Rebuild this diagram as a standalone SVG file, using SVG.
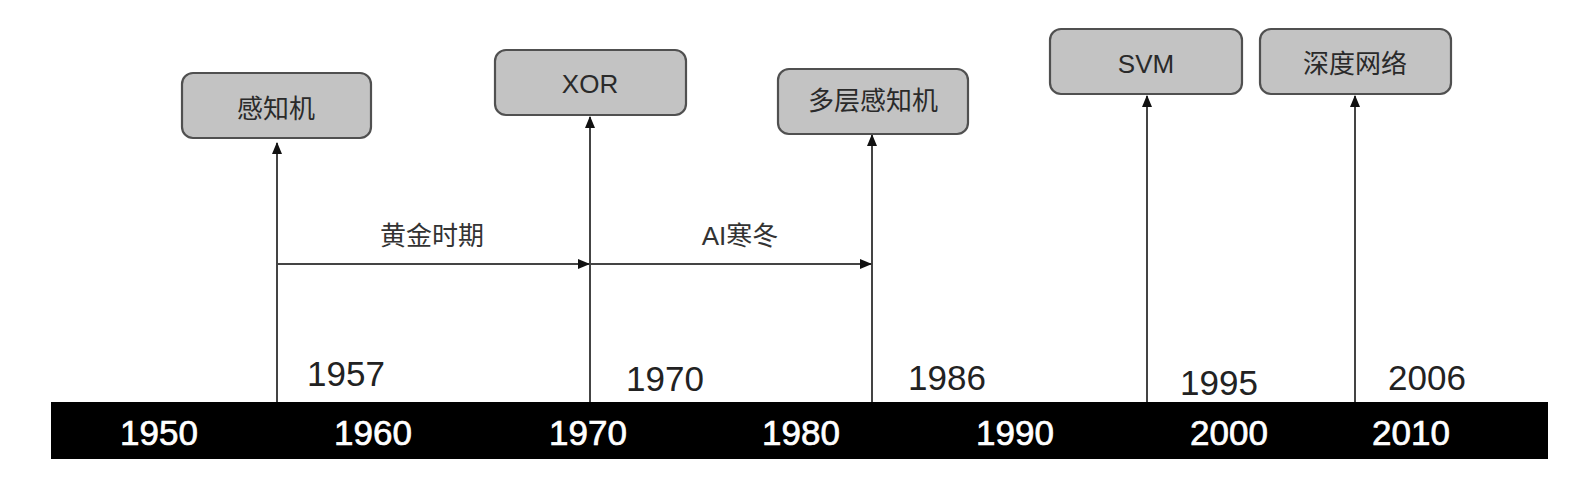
<svg xmlns="http://www.w3.org/2000/svg" width="1579" height="491" viewBox="0 0 1579 491">
<style>
.box{fill:#c3c3c3;stroke:#505050;stroke-width:2.2}
.bt{font-family:"Liberation Sans","Noto Sans CJK SC",sans-serif;font-size:26px;fill:#2a2a2a;text-anchor:middle;dominant-baseline:central}
.lbl{font-family:"Liberation Sans","Noto Sans CJK SC",sans-serif;font-size:26px;fill:#333;text-anchor:middle}
.yr{font-family:"Liberation Sans",sans-serif;font-size:35px;fill:#222}
.by{font-family:"Liberation Sans",sans-serif;font-size:35px;fill:#fff;stroke:#fff;stroke-width:0.7;text-anchor:middle}
.ln{stroke:#444;stroke-width:2;fill:none;marker-end:url(#ah)}
</style>
<defs>
<marker id="ah" markerWidth="12" markerHeight="10" refX="11" refY="5" orient="auto" markerUnits="userSpaceOnUse">
<path d="M0,0 L12,5 L0,10 Z" fill="#111"/>
</marker>
</defs>
<rect width="1579" height="491" fill="#ffffff"/>
<g id="timeline">
<rect x="51" y="402" width="1497" height="57" fill="#000"/>
<text class="by" x="159" y="445">1950</text>
<text class="by" x="373" y="445">1960</text>
<text class="by" x="588" y="445">1970</text>
<text class="by" x="801" y="445">1980</text>
<text class="by" x="1015" y="445">1990</text>
<text class="by" x="1229" y="445">2000</text>
<text class="by" x="1411" y="445">2010</text>
</g>
<g id="connectors">
<line class="ln" x1="277" y1="402" x2="277" y2="143"/>
<line class="ln" x1="590" y1="402" x2="590" y2="117"/>
<line class="ln" x1="872" y1="402" x2="872" y2="135"/>
<line class="ln" x1="1147" y1="402" x2="1147" y2="96"/>
<line class="ln" x1="1355" y1="402" x2="1355" y2="96"/>
<line class="ln" x1="277" y1="264" x2="589" y2="264"/>
<line class="ln" x1="590" y1="264" x2="871" y2="264"/>
</g>
<g id="labels">
<text class="lbl" x="432" y="245">黄金时期</text>
<text class="lbl" x="740" y="245">AI寒冬</text>
<text class="yr" x="307" y="386">1957</text>
<text class="yr" x="626" y="391">1970</text>
<text class="yr" x="908" y="390">1986</text>
<text class="yr" x="1180" y="395">1995</text>
<text class="yr" x="1388" y="390">2006</text>
</g>
<g id="node-perceptron">
<rect class="box" x="182" y="73" width="189" height="65" rx="11"/>
<text class="bt" x="276" y="109">感知机</text>
</g>
<g id="node-xor">
<rect class="box" x="495" y="50" width="191" height="65" rx="11"/>
<text class="bt" x="590" y="84">XOR</text>
</g>
<g id="node-mlp">
<rect class="box" x="778" y="69" width="190" height="65" rx="11"/>
<text class="bt" x="873" y="101">多层感知机</text>
</g>
<g id="node-svm">
<rect class="box" x="1050" y="29" width="192" height="65" rx="11"/>
<text class="bt" x="1146" y="64">SVM</text>
</g>
<g id="node-deep">
<rect class="box" x="1260" y="29" width="191" height="65" rx="11"/>
<text class="bt" x="1355" y="64">深度网络</text>
</g>
</svg>
